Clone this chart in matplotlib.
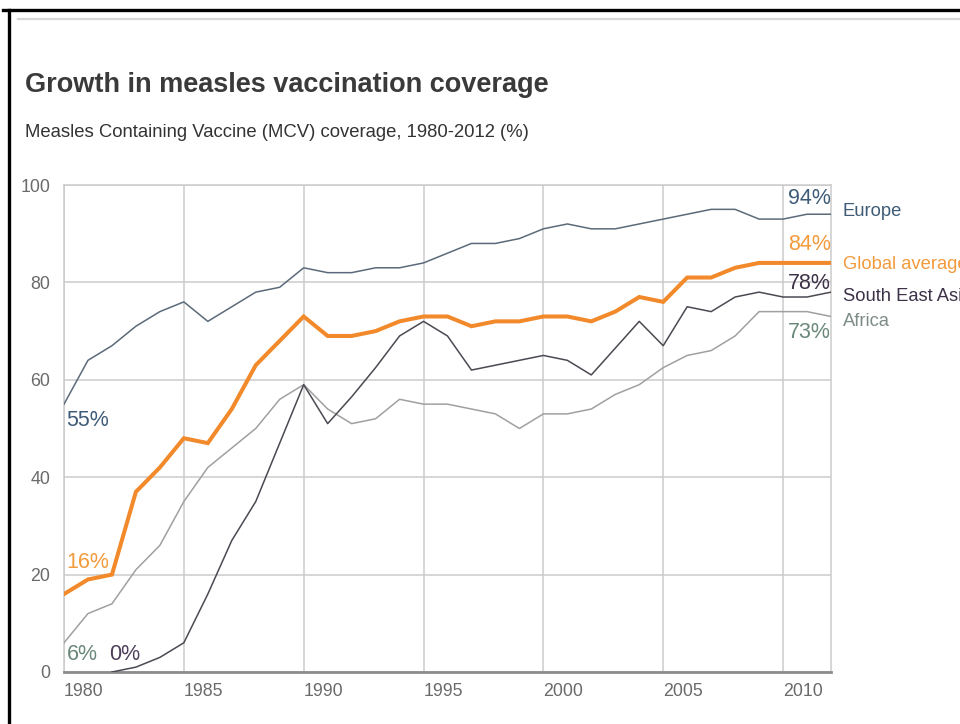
import matplotlib
matplotlib.use('Agg')
import matplotlib.pyplot as plt
from matplotlib import font_manager
from matplotlib.lines import Line2D

# --- data ---
years = list(range(1980, 2013))

europe = [55, 64, 67, 71, 74, 76, 72, 75, 78, 79,
          83, 82, 82, 83, 83, 84, 86, 88, 88, 89,
          91, 92, 91, 91, 92, 93, 94, 95, 95, 93,
          93, 94, 94]
global_avg = [16, 19, 20, 37, 42, 48, 47, 54, 63, 68,
              73, 69, 69, 70, 72, 73, 73, 71, 72, 72,
              73, 73, 72, 74, 77, 76, 81, 81, 83, 84,
              84, 84, 84]
se_asia_years = list(range(1982, 2013))
se_asia = [0, 1, 3, 6, 16, 27, 35, 47,
           59, 51, 56.5, 62.5, 69, 72, 69, 62, 63, 64,
           65, 64, 61, 66.5, 72, 67, 75, 74, 77, 78,
           77, 77, 78]
africa = [6, 12, 14, 21, 26, 35, 42, 46, 50, 56,
          59, 54, 51, 52, 56, 55, 55, 54, 53, 50,
          53, 53, 54, 57, 59, 62.5, 65, 66, 69, 74,
          74, 74, 73]

title = "Growth in measles vaccination coverage"
subtitle = "Measles Containing Vaccine (MCV) coverage, 1980-2012 (%)"
xticks = [1980, 1985, 1990, 1995, 2000, 2005, 2010]
yticks = [0, 20, 40, 60, 80, 100]

plt.rcParams['font.family'] = ['Liberation Sans', 'DejaVu Sans']

W, H = 960, 724
fig = plt.figure(figsize=(W / 100, H / 100), dpi=100)
fig.patch.set_facecolor('white')


def px(x, y):
    return x / W, 1 - y / H


# frame bits from the screenshot
fig.add_artist(Line2D([3 / W, 1], [1 - 10 / H] * 2, color='black', lw=2.4))
fig.add_artist(Line2D([8.5 / W] * 2, [0, 1 - 10 / H], color='black', lw=2.4))
fig.add_artist(Line2D([18 / W, 1], [1 - 18.5 / H] * 2, color='#d6d6d6', lw=1.6))

fig.text(*px(25, 92), title, fontsize=19.5, fontweight='bold', color='#3a3a3a',
         va='baseline')
fig.text(*px(25, 137), subtitle, fontsize=13.3, color='#333333', va='baseline')

l, r, t, b = 64, 831, 185, 672
ax = fig.add_axes([l / W, 1 - b / H, (r - l) / W, (b - t) / H])
ax.set_xlim(1980, 2012)
ax.set_ylim(0, 100)

grid_c = '#cbcbcb'
ax.set_xticks(xticks)
ax.set_yticks(yticks)
ax.grid(True, color=grid_c, lw=1.1)
ax.set_axisbelow(True)
for s in ['top', 'left', 'right']:
    ax.spines[s].set_color(grid_c)
    ax.spines[s].set_linewidth(1.1)
ax.spines['bottom'].set_color('#8c8c8c')
ax.spines['bottom'].set_linewidth(2.0)
ax.tick_params(length=0, labelsize=12.8, labelcolor='#6a6a6a')
ax.tick_params(axis='y', pad=10)
ax.tick_params(axis='x', pad=8)
for lab in ax.get_xticklabels():
    lab.set_horizontalalignment('left')

ax.plot(years, africa, color='#a0a0a0', lw=1.1, zorder=3)
ax.plot(se_asia_years, se_asia, color='#4d4852', lw=1.1, zorder=4)
ax.plot(years, europe, color='#5b6a7a', lw=1.1, zorder=4)
ax.plot(years, global_avg, color='#f2892a', lw=2.9, zorder=5, solid_joinstyle='miter')

c_eu, c_gl, c_sea, c_af = '#3e5c77', '#f39a3c', '#3d3247', '#6a887a'
fs_pct = 15.5
fs_name = 13.2

# end labels
ax.text(2012, 97.3, f"{europe[-1]}%", color=c_eu, fontsize=fs_pct, ha='right', va='center')
ax.text(2012, 87.7, f"{global_avg[-1]}%", color=c_gl, fontsize=fs_pct, ha='right', va='center')
ax.text(2012, 79.7, f"{se_asia[-1]}%", color=c_sea, fontsize=fs_pct, ha='right', va='center')
ax.text(2012, 69.8, f"{africa[-1]}%", color=c_af, fontsize=fs_pct, ha='right', va='center')

ax.text(2012.5, 94.5, "Europe", color=c_eu, fontsize=fs_name, va='center', clip_on=False)
ax.text(2012.5, 83.6, "Global average", color=c_gl, fontsize=fs_name, va='center', clip_on=False)
ax.text(2012.5, 77.2, "South East Asia", color=c_sea, fontsize=fs_name, va='center', clip_on=False)
ax.text(2012.5, 71.9, "Africa", color='#7d8c85', fontsize=fs_name, va='center', clip_on=False)

# start labels
ax.text(1980.1, 51.7, f"{europe[0]}%", color=c_eu, fontsize=fs_pct, va='center')
ax.text(1980.1, 22.4, f"{global_avg[0]}%", color=c_gl, fontsize=fs_pct, va='center')
ax.text(1980.1, 3.5, f"{africa[0]}%", color=c_af, fontsize=fs_pct, va='center')
ax.text(1981.9, 3.5, f"{se_asia[0]}%", color='#4e3f5a', fontsize=fs_pct, va='center')

fig.savefig('out.png', dpi=100, facecolor='white')
